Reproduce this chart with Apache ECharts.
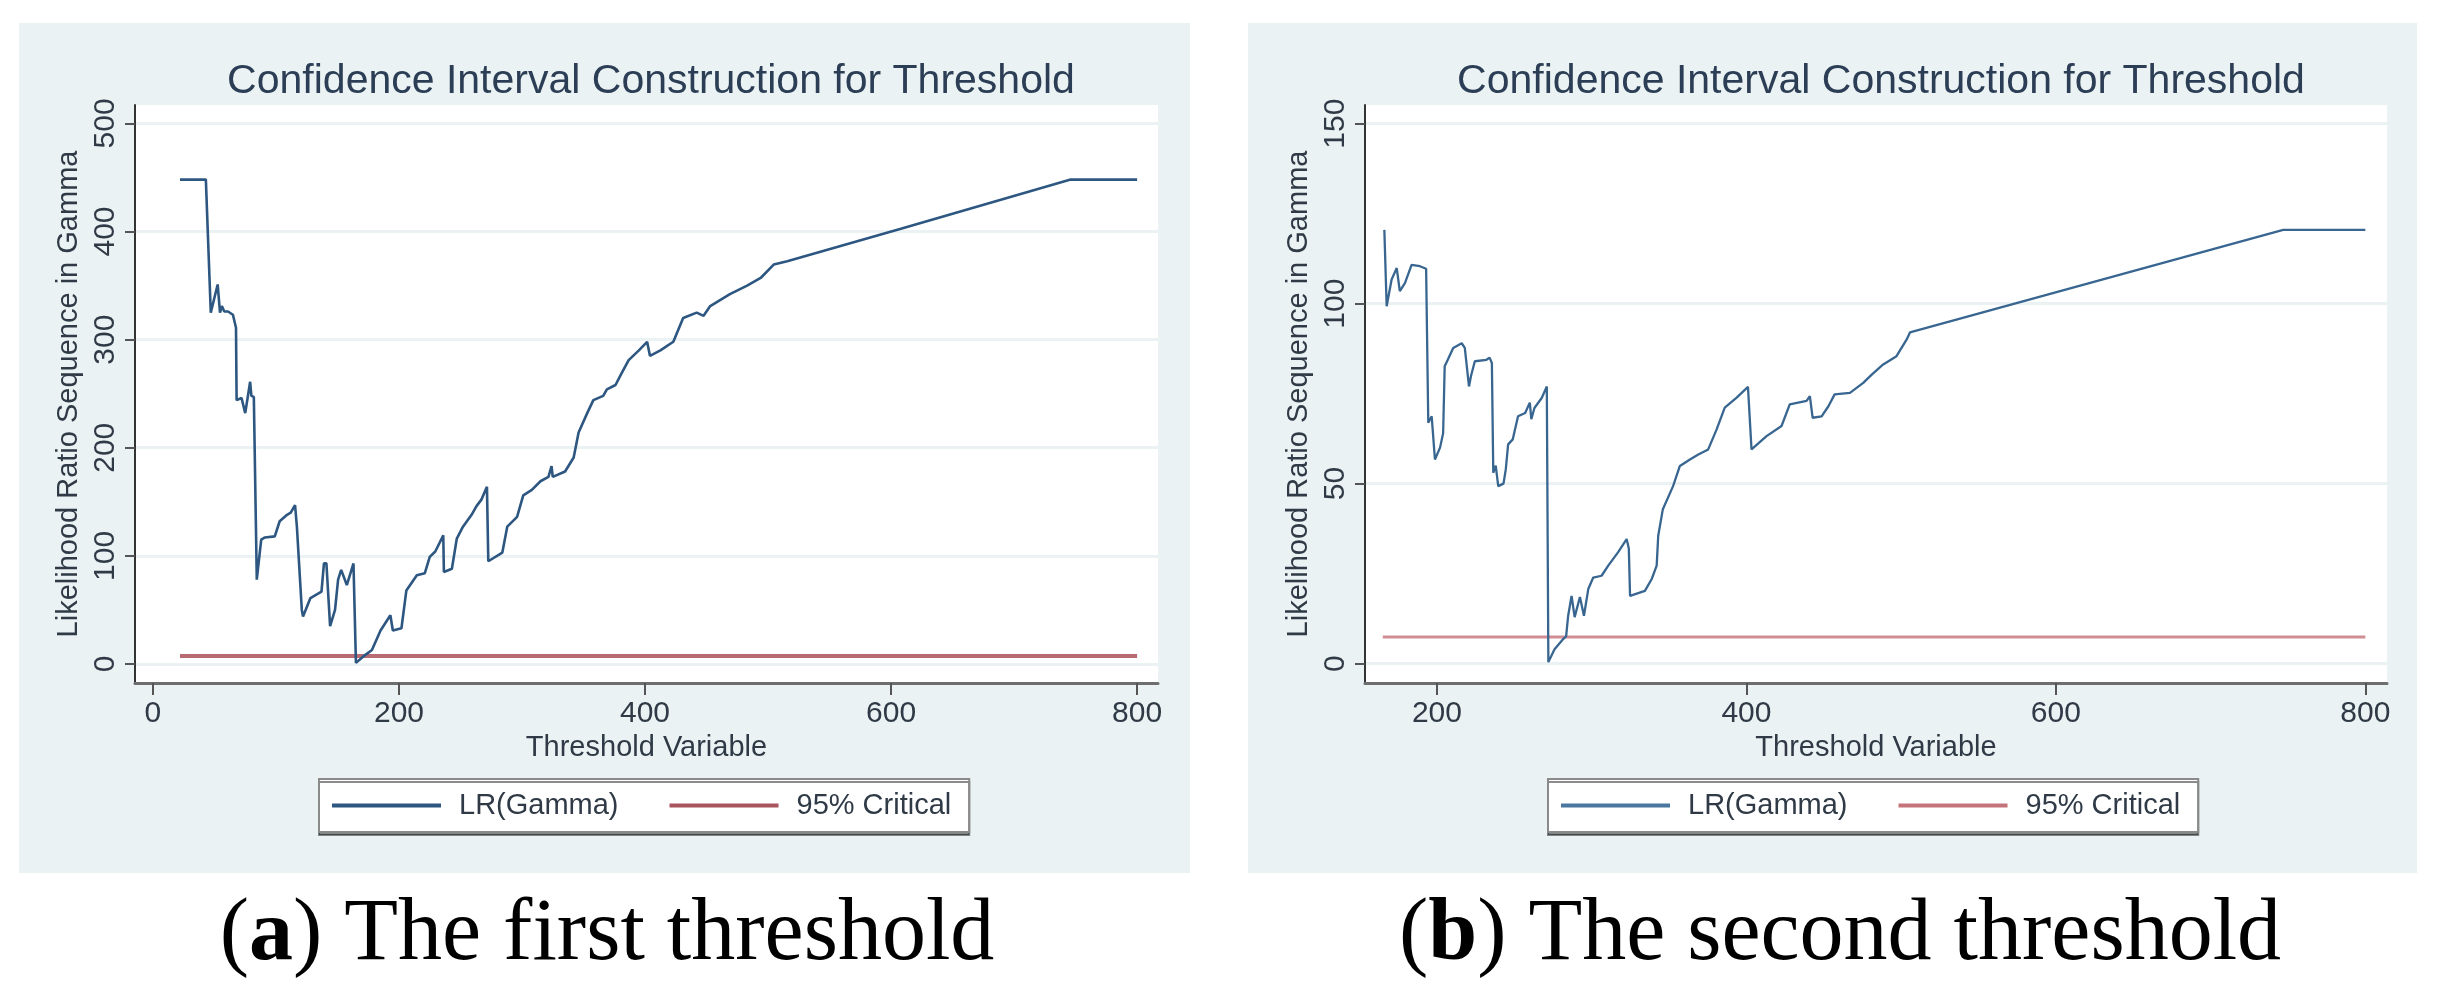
<!DOCTYPE html>
<html>
<head>
<meta charset="utf-8">
<script src="https://cdn.jsdelivr.net/npm/echarts@6/dist/echarts.min.js"></script>
<style>
html,body{margin:0;padding:0;background:#fff;}
#c{width:2439px;height:999px;}
</style>
</head>
<body>
<div id="c"></div>
<script>
// ---- data ----
var leftX = [22,43,47,52.6,54.5,56,58,61,65,67.5,68,72,75,79,80,82,84.4,88,91,99,103,109,112,115.5,117,121,122,128,137,139,141,144,148,150.5,153,157.6,163,165,171,178,185,193,195,202,206,214.5,221,225,229.5,236,236.5,243,247,252,259,263,267,271.5,272.6,284,288,296,301,308,315,321.5,324,325,335,342,346,353,358,366,369,376,381,386.7,395,401.7,404,412.5,423,431,442,447.6,453,469,483,494,504.6,515.6,608,746,800];
var leftLR = [448,448,325,351,325,331,326,326,323,311,244,246,232,261,248,247,78,115,117,118,132,138,140,147,127,50,44,61,67,93,93,35,50,78,87,73,93,1,7,13,31,45,31,33,68,82,84,99,104,119,85,88,116,127,138,146,152,164,95,103,127,136,156,161,169,173,183,173,178,191,214,232,244,248,254,258,269,281,290,298,285,290,298,320,325,322,331,342,350,357,369.4,372.5,402.5,448,448];
var rightX = [166,167.5,170.7,174,176,179.3,183.6,189,193,194.4,196.6,198.7,202,204,205,207,210.5,216,218,220.7,222,224.5,232,234,235.5,236.4,238,239.6,243,244.5,246,249,252.4,257,260,261,263,267.7,271,272,276,281.6,283.5,284.8,287,289,292.4,295,297.8,301,306.4,310.7,317,322.6,324,324.8,334.4,338.8,342,343,346,352.6,357,363.5,368.9,375.3,380.7,386,393.7,401,403.3,413,422.7,428,438.9,441,442.8,448.6,453,457,466.9,475.5,481,488.4,497,503.5,505.7,746.9,800];
var rightLR = [120.5,99.3,106.7,109.9,103.5,105.7,110.8,110.4,109.7,66.9,68.7,56.7,60,64,82.6,84.4,87.7,89,87.7,77,79.9,84,84.4,85,83.5,53,55,49.3,50,54,60.9,62.3,68.7,69.6,72.5,67.9,71,73.8,77,0.4,4,6.8,7.6,13.3,18.8,12.9,18.5,13.3,20.7,23.9,24.4,27.2,30.9,34.6,32,18.8,20.2,23.5,27.2,35.5,42.9,49.3,54.9,56.7,58.1,59.5,65,71.1,73.9,76.9,59.5,63.2,66,72,73,74.3,68.3,68.7,71.5,74.8,75.2,78,80.3,83.1,85.4,90,92,120.5,120.5];
var critical = 7.35;
var leftCritX = [22, 800];
var rightCritX = [165, 800];
var leftXTicks = [0, 200, 400, 600, 800];
var leftYTicks = [0, 100, 200, 300, 400, 500];
var rightXTicks = [200, 400, 600, 800];
var rightYTicks = [0, 50, 100, 150];
var titleText = 'Confidence Interval Construction for Threshold';
var xName = 'Threshold Variable';
var yName = 'Likelihood Ratio Sequence in Gamma';
var seriesNames = ['LR(Gamma)', '95% Critical'];

function pairs(xs, ys) { return xs.map(function (x, i) { return [x, ys[i]]; }); }
function flat(xs, v) { return xs.map(function (x) { return [x, v]; }); }

var FONT = 'Liberation Sans, Arial, sans-serif';
var TXT = '#2f3a46';

function xAxisCfg(grid, min, max, ticks) {
  return {
    type: 'value', gridIndex: grid, min: min, max: max,
    axisLine: { show: true, onZero: false, lineStyle: { color: '#6e6e6e', width: 3 } },
    axisTick: { show: true, customValues: ticks, length: 12, lineStyle: { color: '#555', width: 2 } },
    axisLabel: { customValues: ticks, fontSize: 30, fontFamily: FONT, color: TXT, margin: 16 },
    splitLine: { show: false },
    name: xName, nameLocation: 'middle', nameGap: 50,
    nameTextStyle: { fontSize: 29, fontFamily: FONT, color: TXT }
  };
}
function yAxisCfg(grid, min, max, ticks) {
  return {
    type: 'value', gridIndex: grid, min: min, max: max,
    axisLine: { show: true, onZero: false, lineStyle: { color: '#333', width: 2 } },
    axisTick: { show: true, customValues: ticks, length: 10, lineStyle: { color: '#555', width: 2 } },
    axisLabel: { customValues: ticks, rotate: 90, fontSize: 30, fontFamily: FONT, color: TXT, margin: 14 },
    splitLine: { show: true, lineStyle: { color: '#eaf2f3', width: 3 } },
    name: yName, nameLocation: 'middle', nameGap: 52, nameRotate: 90,
    nameTextStyle: { fontSize: 29, fontFamily: FONT, color: TXT }
  };
}
function legendCfg(left, suffix, c1, c2) {
  return {
    left: left, top: 779, orient: 'horizontal',
    data: [
      { name: seriesNames[0] + suffix, icon: 'rect', itemStyle: { color: c1 } },
      { name: seriesNames[1] + suffix, icon: 'rect', itemStyle: { color: c2 } }
    ],
    formatter: function (n) { return n.split('#')[0]; },
    itemWidth: 109, itemHeight: 4, itemGap: 51,
    padding: [12, 18, 12, 13],
    backgroundColor: '#fff', borderColor: '#8a8a8a', borderWidth: 2, borderRadius: 0,
    shadowColor: 'rgba(0,0,0,0.45)', shadowOffsetY: 3, shadowOffsetX: 0, shadowBlur: 0,
    textStyle: { fontSize: 29, fontFamily: FONT, color: TXT, padding: [0, 0, 0, 13] },
    selectedMode: false
  };
}

var chart = echarts.init(document.getElementById('c'), null, { renderer: 'canvas' });
chart.setOption({
  animation: false,
  backgroundColor: '#ffffff',
  graphic: [
    { type: 'rect', z: -100, shape: { x: 19, y: 23, width: 1171, height: 850 }, style: { fill: '#eaf2f3' } },
    { type: 'rect', z: -100, shape: { x: 1248, y: 23, width: 1169, height: 850 }, style: { fill: '#eaf2f3' } },
    { type: 'text', z: 10, style: {
        x: 607, y: 936, align: 'center', verticalAlign: 'middle',
        text: '({b|a}) The first threshold',
        fontSize: 88, fontFamily: 'Liberation Serif, Times New Roman, serif', fill: '#000',
        rich: { b: { fontSize: 88, fontWeight: 'bold', fontFamily: 'Liberation Serif, Times New Roman, serif', fill: '#000' } }
    } },
    { type: 'text', z: 10, style: {
        x: 1840, y: 936, align: 'center', verticalAlign: 'middle',
        text: '({b|b}) The second threshold',
        fontSize: 88, fontFamily: 'Liberation Serif, Times New Roman, serif', fill: '#000',
        rich: { b: { fontSize: 88, fontWeight: 'bold', fontFamily: 'Liberation Serif, Times New Roman, serif', fill: '#000' } }
    } }
  ],
  title: [
    { text: titleText, left: 646, top: 56, textAlign: 'center',
      textStyle: { fontSize: 41, fontWeight: 'normal', fontFamily: FONT, color: '#2c3e55' } },
    { text: titleText, left: 1876, top: 56, textAlign: 'center',
      textStyle: { fontSize: 41, fontWeight: 'normal', fontFamily: FONT, color: '#2c3e55' } }
  ],
  legend: [legendCfg(319, '#a', '#2d5781', '#a9555d'), legendCfg(1548, '#b', '#4a76a0', '#c5737b')],
  grid: [
    { left: 135, top: 105, width: 1023, height: 578, show: true, backgroundColor: '#ffffff', borderWidth: 0 },
    { left: 1365, top: 105, width: 1022, height: 578, show: true, backgroundColor: '#ffffff', borderWidth: 0 }
  ],
  xAxis: [xAxisCfg(0, -14.6, 817, leftXTicks), xAxisCfg(1, 153.5, 814, rightXTicks)],
  yAxis: [yAxisCfg(0, -17.6, 517, leftYTicks), yAxisCfg(1, -5.4, 155.2, rightYTicks)],
  series: [
    { name: seriesNames[0] + '#a', type: 'line', xAxisIndex: 0, yAxisIndex: 0, data: pairs(leftX, leftLR),
      symbol: 'none', showSymbol: false, z: 3, lineStyle: { color: '#2d5781', width: 2.6 }, itemStyle: { color: '#2d5781' } },
    { name: seriesNames[1] + '#a', type: 'line', xAxisIndex: 0, yAxisIndex: 0, data: flat(leftCritX, critical),
      symbol: 'none', showSymbol: false, z: 2, lineStyle: { color: '#b86b73', width: 4 }, itemStyle: { color: '#a9555d' } },
    { name: seriesNames[0] + '#b', type: 'line', xAxisIndex: 1, yAxisIndex: 1, data: pairs(rightX, rightLR),
      symbol: 'none', showSymbol: false, z: 3, lineStyle: { color: '#386690', width: 2.3 }, itemStyle: { color: '#4a76a0' } },
    { name: seriesNames[1] + '#b', type: 'line', xAxisIndex: 1, yAxisIndex: 1, data: flat(rightCritX, critical),
      symbol: 'none', showSymbol: false, z: 2, lineStyle: { color: '#d08e94', width: 3 }, itemStyle: { color: '#c5737b' } }
  ]
});
</script>
</body>
</html>
